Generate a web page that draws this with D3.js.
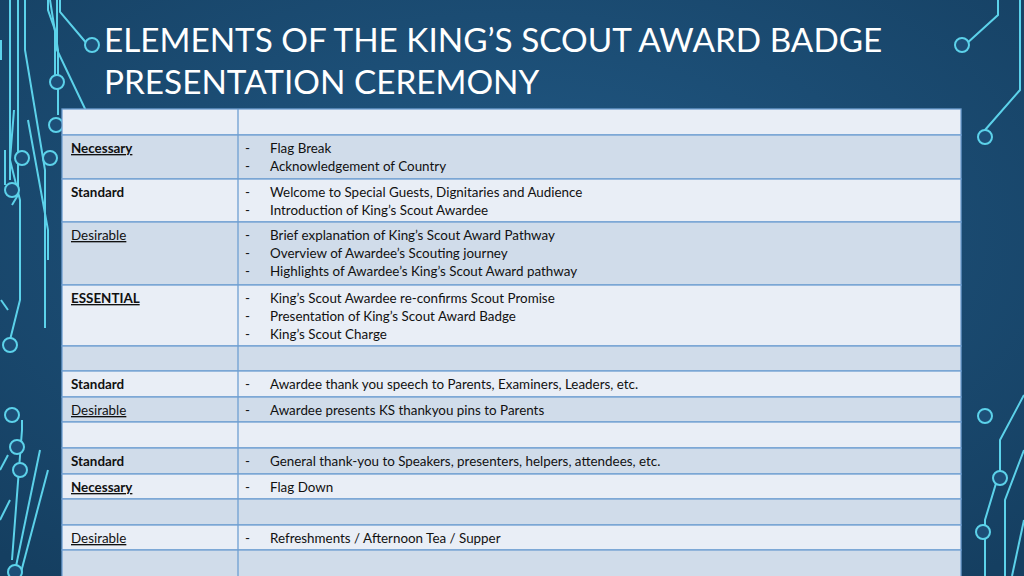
<!DOCTYPE html>
<html><head><meta charset="utf-8">
<script src="https://cdn.jsdelivr.net/npm/d3@7"></script>
<style>body{margin:0;overflow:hidden}svg{display:block}</style>
</head><body>
<script>
const titleLines = ["ELEMENTS OF THE KING’S SCOUT AWARD BADGE", "PRESENTATION CEREMONY"];
const rowLabels = ["", "Necessary", "Standard", "Desirable", "ESSENTIAL", "", "Standard", "Desirable", "", "Standard", "Necessary", "", "Desirable", ""];
const labelBold = [0,1,1,0,1,0,1,0,0,1,1,0,0,0];
const labelUnderline = [0,1,0,1,1,0,0,1,0,0,1,0,1,0];
const rowItems = [
  [],
  ["Flag Break", "Acknowledgement of Country"],
  ["Welcome to Special Guests, Dignitaries and Audience", "Introduction of King’s Scout Awardee"],
  ["Brief explanation of King’s Scout Award Pathway", "Overview of Awardee’s Scouting journey", "Highlights of Awardee’s King’s Scout Award pathway"],
  ["King’s Scout Awardee re-confirms Scout Promise", "Presentation of King’s Scout Award Badge", "King’s Scout Charge"],
  [],
  ["Awardee thank you speech to Parents, Examiners, Leaders,  etc."],
  ["Awardee presents KS thankyou pins to Parents"],
  [],
  ["General thank-you to Speakers, presenters, helpers, attendees, etc."],
  ["Flag Down"],
  [],
  ["Refreshments / Afternoon Tea / Supper"],
  []
];
const rowBounds = [109,135,179,222,285,346,371,397,422,448,474,499,525,550,580];

const W=1024,H=576;
const svg=d3.select("body").append("svg").attr("width",W).attr("height",H);
const defs=svg.append("defs");
const g=defs.append("radialGradient").attr("id","bg").attr("cx","50%").attr("cy","40%").attr("r","75%");
g.append("stop").attr("offset","0%").attr("stop-color","#215985");
g.append("stop").attr("offset","100%").attr("stop-color","#153f61");
svg.append("rect").attr("width",W).attr("height",H).attr("fill","url(#bg)");

const deco=svg.append("g").attr("fill","none").attr("stroke","#5cd2ea").attr("stroke-width",2);
const paths=[
 "M10,0 L10,180","M18,0 L18,195 L12,205","M25,0 L25,50 L45,170 L45,328","M50,0 L58,50 L58,115","M57,0 L57,50 L88,115 L88,150",
 "M60,0 L60,12 L88,45","M1,40 L1,60","M48,0 L48,10 L55,30 L55,82",
 "M14,110 L10,160 L20,200 L20,300 L10,340","M28,120 L48,230 L48,260",
 "M1,300 L8,310","M5,150 L5,185",
 "M12,560 L22,430 L22,420","M14,576 L40,450","M20,576 L48,470","M0,470 L8,455","M0,520 L10,500",
 "M1020,0 L1020,90 L985,130","M998,0 L998,15 L965,45","M1024,395 L1000,440 L1000,470 L985,520 L985,576","M1024,450 L1005,500 L1005,576","M1024,520 L1012,576"
];
deco.selectAll("path").data(paths).join("path").attr("d",d=>d);
deco.selectAll("circle").data([[92,45],[57,82],[56,125],[50,158],[22,158],[12,190],[10,345],[15,572],[12,415],[17,447],[20,470],[985,137],[962,45],[985,416],[1000,478],[983,532]]).join("circle")
 .attr("cx",d=>d[0]).attr("cy",d=>d[1]).attr("r",7).attr("fill","#1d4f78");

svg.append("g").selectAll("text").data(titleLines).join("text")
 .attr("x",104).attr("y",(d,i)=>52+i*42).attr("fill","#fff")
 .attr("font-family","Lato, 'Open Sans', sans-serif").attr("font-size",33.3).text(d=>d);

const x0=62,x1=238,x2=961;
const rows=svg.append("g").selectAll("g").data(rowLabels).join("g");
rows.append("rect").attr("x",x0).attr("y",(d,i)=>rowBounds[i]).attr("width",x2-x0)
 .attr("height",(d,i)=>rowBounds[i+1]-rowBounds[i])
 .attr("fill",(d,i)=>i%2?"#d0dcea":"#e9eef6").attr("stroke","#6f9fd2").attr("stroke-width",1.3);
rows.append("line").attr("x1",x1).attr("x2",x1).attr("y1",(d,i)=>rowBounds[i]).attr("y2",(d,i)=>rowBounds[i+1])
 .attr("stroke","#6f9fd2").attr("stroke-width",1.3);
const ff="Lato, 'Open Sans', sans-serif";
const fs=13.4;
rows.append("text").attr("x",71).attr("y",(d,i)=>rowBounds[i]+18)
 .attr("font-family",ff).attr("font-size",fs).attr("fill","#111")
 .attr("font-weight",(d,i)=>labelBold[i]?"bold":"normal")
 .attr("text-decoration",(d,i)=>labelUnderline[i]?"underline":"none").text(d=>d);
rows.each(function(d,i){
  const gg=d3.select(this);
  rowItems[i].forEach((t,j)=>{
    const y=rowBounds[i]+18+j*18;
    gg.append("text").attr("x",245).attr("y",y).attr("font-family",ff).attr("font-size",fs).attr("fill","#111").text("-");
    gg.append("text").attr("x",270).attr("y",y).attr("font-family",ff).attr("font-size",fs).attr("fill","#111").text(t);
  });
});
</script>
</body></html>
